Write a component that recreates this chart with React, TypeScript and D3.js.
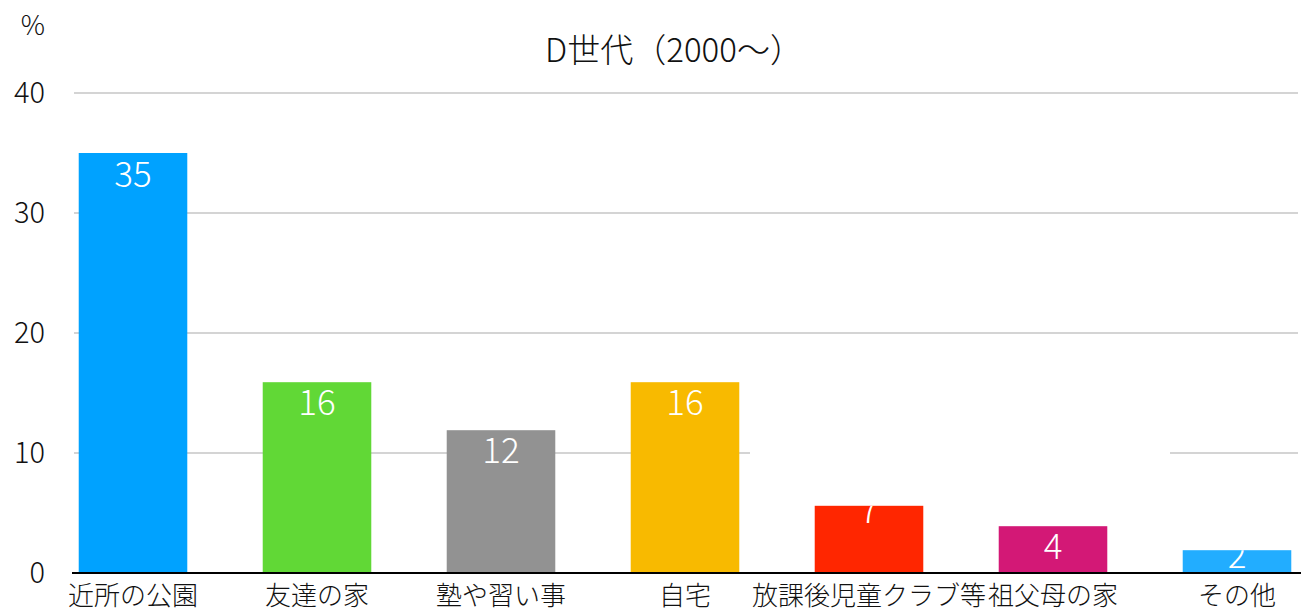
import * as d3 from 'd3'
import { useEffect, useRef } from 'react'

const categories = ['近所の公園', '友達の家', '塾や習い事', '自宅', '放課後児童クラブ等', '祖父母の家', 'その他']
// bar heights as drawn, and the labels printed on them
const values = [35, 15.9, 11.9, 15.9, 5.6, 3.9, 1.9]
const labels = [35, 16, 12, 16, 7, 4, 2]
const colors = ['#00a2ff', '#61d836', '#929292', '#f8ba00', '#ff2600', '#d31876', '#22adff']
const yTicks = [0, 10, 20, 30, 40]
const title = 'D世代（2000〜）'
const unit = '%'

const FONT = '"Noto Sans CJK JP", "Noto Sans", sans-serif'

export default function App() {
    const svgRef = useRef<SVGSVGElement>(null)

    useEffect(() => {
        makeChart(svgRef)
    }, [])

    function makeChart(svgRef: React.RefObject<SVGSVGElement>) {
        const width = 1301
        const height = 614

        const svg = d3.select(svgRef.current).attr('width', width).attr('height', height)
        svg.selectAll('*').remove()
        svg.style('font-family', FONT).style('font-weight', 300)

        const xScale = d3.scaleBand().domain(categories).range([41, 1329]).paddingInner(0.41).paddingOuter(0.205)
        const yScale = d3.scaleLinear().domain([0, 40]).range([573, 93])

        // grid
        const grid = svg.append('g')
        grid.selectAll('line')
            .data(yTicks.filter(t => t > 0))
            .enter()
            .append('line')
            .attr('x1', 74)
            .attr('x2', 1298)
            .attr('y1', d => yScale(d))
            .attr('y2', d => yScale(d))
            .attr('stroke', '#c6c6c6')
            .attr('stroke-width', 1.5)
        // the gap in the 10 line seen in the original
        grid.append('rect')
            .attr('x', 750).attr('width', 420)
            .attr('y', yScale(10) - 2).attr('height', 4)
            .attr('fill', '#fff')

        // tick labels
        svg.append('g').selectAll('text')
            .data(yTicks)
            .enter()
            .append('text')
            .attr('x', 45)
            .attr('y', d => yScale(d))
            .attr('dy', '0.35em')
            .attr('text-anchor', 'end')
            .attr('font-size', 29)
            .attr('fill', '#111')
            .text(d => d)

        svg.append('text')
            .attr('x', 45).attr('y', 26).attr('dy', '0.35em')
            .attr('text-anchor', 'end')
            .attr('font-size', 27)
            .attr('fill', '#111')
            .text(unit)

        svg.append('text')
            .attr('x', 674).attr('y', 50).attr('dy', '0.35em')
            .attr('text-anchor', 'middle')
            .attr('font-size', 33)
            .attr('fill', '#111')
            .text(title)

        // bars
        const bars = svg.append('g')
        bars.selectAll('rect')
            .data(values)
            .enter()
            .append('rect')
            .attr('x', (_, i) => xScale(categories[i])!)
            .attr('width', xScale.bandwidth())
            .attr('y', d => yScale(d))
            .attr('height', d => yScale(0) - yScale(d))
            .attr('fill', (_, i) => colors[i])

        // value labels, clipped by the bars
        const defs = svg.append('defs')
        values.forEach((v, i) => {
            defs.append('clipPath').attr('id', 'clip' + i)
                .append('rect')
                .attr('x', xScale(categories[i])!)
                .attr('width', xScale.bandwidth())
                .attr('y', yScale(v))
                .attr('height', yScale(0) - yScale(v))
        })
        svg.append('g').selectAll('text')
            .data(labels)
            .enter()
            .append('text')
            .attr('clip-path', (_, i) => `url(#clip${i})`)
            .attr('x', (_, i) => xScale(categories[i])! + xScale.bandwidth() / 2)
            .attr('y', d => Math.min(yScale(d) + 22, yScale(0) - 17))
            .attr('dy', '0.35em')
            .attr('text-anchor', 'middle')
            .attr('font-size', 35)
            .attr('fill', '#fff')
            .text(d => d)

        // baseline
        svg.append('line')
            .attr('x1', 72).attr('x2', 1301)
            .attr('y1', yScale(0)).attr('y2', yScale(0))
            .attr('stroke', '#000')
            .attr('stroke-width', 2)

        // category labels
        svg.append('g').selectAll('text')
            .data(categories)
            .enter()
            .append('text')
            .attr('x', d => xScale(d)! + xScale.bandwidth() / 2)
            .attr('y', 596)
            .attr('dy', '0.35em')
            .attr('text-anchor', 'middle')
            .attr('font-size', 26)
            .attr('fill', '#111')
            .text(d => d)
    }

    return (
        <svg ref={svgRef} style={{ position: 'absolute', left: 0, top: 0 }}></svg>
    )
}
